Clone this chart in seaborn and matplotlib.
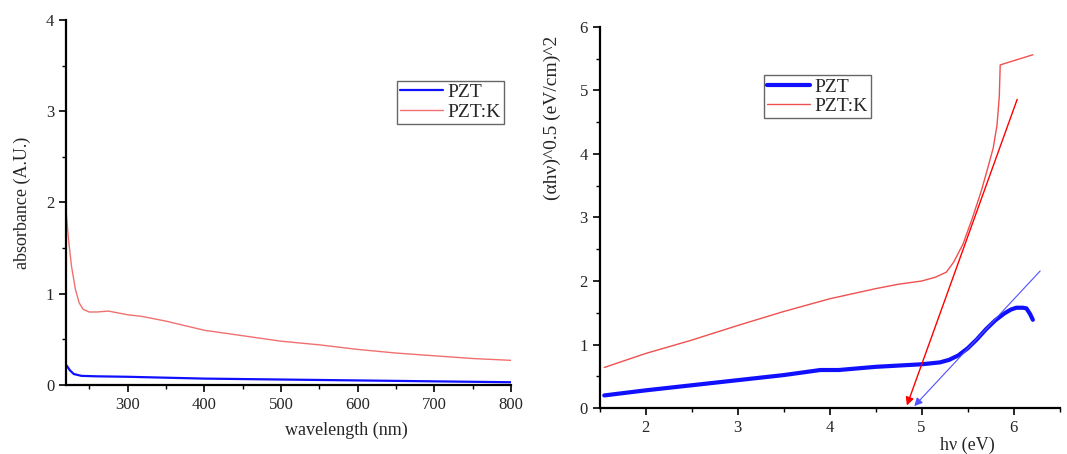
import matplotlib
matplotlib.use("Agg")
import matplotlib.pyplot as plt
from matplotlib.ticker import MultipleLocator
import seaborn as sns

# absorbance spectra (left panel)
wl_pzt = [220, 225, 230, 240, 260, 300, 350, 400, 450, 500, 550, 600, 650, 700, 750, 800]
abs_pzt = [0.22, 0.16, 0.12, 0.10, 0.095, 0.09, 0.08, 0.07, 0.065, 0.06, 0.055, 0.05, 0.045, 0.04, 0.035, 0.03]
wl_pztk = [220, 223, 227, 232, 237, 242, 250, 260, 275, 300, 320, 350, 400, 450, 500, 550, 600, 650, 700, 750, 800]
abs_pztk = [1.9, 1.6, 1.3, 1.05, 0.9, 0.83, 0.8, 0.8, 0.81, 0.77, 0.75, 0.70, 0.60, 0.54, 0.48, 0.44, 0.39, 0.35, 0.32, 0.29, 0.27]

# Tauc plot (right panel)
ev_pzt = [1.55, 2.0, 2.5, 3.0, 3.5, 3.9, 4.0, 4.1, 4.5, 5.0, 5.2, 5.3, 5.4, 5.5, 5.6, 5.7, 5.8, 5.9, 5.97, 6.03, 6.1, 6.14, 6.18, 6.21]
tauc_pzt = [0.2, 0.28, 0.36, 0.44, 0.52, 0.6, 0.6, 0.6, 0.65, 0.69, 0.72, 0.76, 0.83, 0.94, 1.08, 1.24, 1.38, 1.49, 1.55, 1.58, 1.58, 1.57, 1.48, 1.39]
ev_pztk = [1.55, 2.0, 2.5, 3.0, 3.5, 4.0, 4.5, 4.75, 5.0, 5.15, 5.27, 5.35, 5.45, 5.55, 5.65, 5.72, 5.78, 5.82, 5.845, 5.855, 6.21]
tauc_pztk = [0.64, 0.86, 1.07, 1.30, 1.52, 1.72, 1.88, 1.95, 2.0, 2.06, 2.14, 2.3, 2.58, 2.98, 3.42, 3.78, 4.1, 4.45, 4.9, 5.40, 5.56]

# tangent (extrapolation) lines: start point -> band gap on the x axis
fit_pztk = [(6.05, 4.90), (4.83, 0.0)]
fit_pzt = [(6.31, 2.19), (4.90, 0.0)]

sns.set_theme(style="ticks")
plt.rcParams['font.family'] = ['Liberation Serif', 'DejaVu Serif']

fig = plt.figure(figsize=(10.67, 4.54), dpi=100)
ax1 = fig.add_axes([0.062, 0.152, 0.417, 0.804])
ax2 = fig.add_axes([0.562, 0.101, 0.431, 0.840])

legend_kw = dict(loc="upper left", fontsize=14, frameon=True, fancybox=False,
                 edgecolor="#404040", handlelength=2.2, borderpad=0.15,
                 labelspacing=0.1, handletextpad=0.25, borderaxespad=0)

# left panel
sns.lineplot(x=wl_pzt, y=abs_pzt, ax=ax1, color="#1010ff", lw=1.6, label="PZT")
sns.lineplot(x=wl_pztk, y=abs_pztk, ax=ax1, color="#f07070", lw=1.0, label="PZT:K")
ax1.set_xlim(220, 800)
ax1.set_ylim(0, 4)
ax1.xaxis.set_major_locator(MultipleLocator(100))
ax1.xaxis.set_minor_locator(MultipleLocator(50))
ax1.yaxis.set_major_locator(MultipleLocator(1))
ax1.yaxis.set_minor_locator(MultipleLocator(0.5))
ax1.set_xlabel("wavelength (nm)", fontsize=13)
ax1.xaxis.set_label_coords(0.63, -0.1)
ax1.set_ylabel("absorbance (A.U.)", fontsize=13)
ax1.yaxis.set_label_coords(-0.08, 0.5)
ax1.legend(bbox_to_anchor=(0.744, 0.834), **legend_kw)

# right panel
sns.lineplot(x=ev_pzt, y=tauc_pzt, ax=ax2, color="#1010ff", lw=3.0, label="PZT")
sns.lineplot(x=ev_pztk, y=tauc_pztk, ax=ax2, color="#f05050", lw=1.0, label="PZT:K")
ax2.annotate("", xy=fit_pztk[1], xytext=fit_pztk[0],
             arrowprops=dict(arrowstyle="-|>", color="red", lw=1.0, mutation_scale=12))
ax2.annotate("", xy=fit_pzt[1], xytext=fit_pzt[0],
             arrowprops=dict(arrowstyle="-|>", color="#5050ff", lw=0.8, mutation_scale=12))
ax2.set_xlim(1.5, 6.5)
ax2.set_ylim(0, 6)
ax2.xaxis.set_major_locator(MultipleLocator(1))
ax2.xaxis.set_minor_locator(MultipleLocator(0.5))
ax2.yaxis.set_major_locator(MultipleLocator(1))
ax2.yaxis.set_minor_locator(MultipleLocator(0.5))
ax2.set_xlabel("hν (eV)", fontsize=13)
ax2.xaxis.set_label_coords(0.80, -0.075)
ax2.set_ylabel("(αhν)^0.5 (eV/cm)^2", fontsize=14)
ax2.yaxis.set_label_coords(-0.085, 0.76)
ax2.legend(bbox_to_anchor=(0.358, 0.873), **legend_kw)

for ax in (ax1, ax2):
    sns.despine(ax=ax)
    ax.spines["left"].set_linewidth(1.6)
    ax.spines["bottom"].set_linewidth(1.6)
    ax.spines["left"].set_color("black")
    ax.spines["bottom"].set_color("black")
    ax.tick_params(which="major", length=5, width=1.2, labelsize=12, color="black")
    ax.tick_params(which="minor", length=3, width=1.0, color="black")
    ax.set_facecolor("white")

fig.savefig("out.png", dpi=100, facecolor="white")
